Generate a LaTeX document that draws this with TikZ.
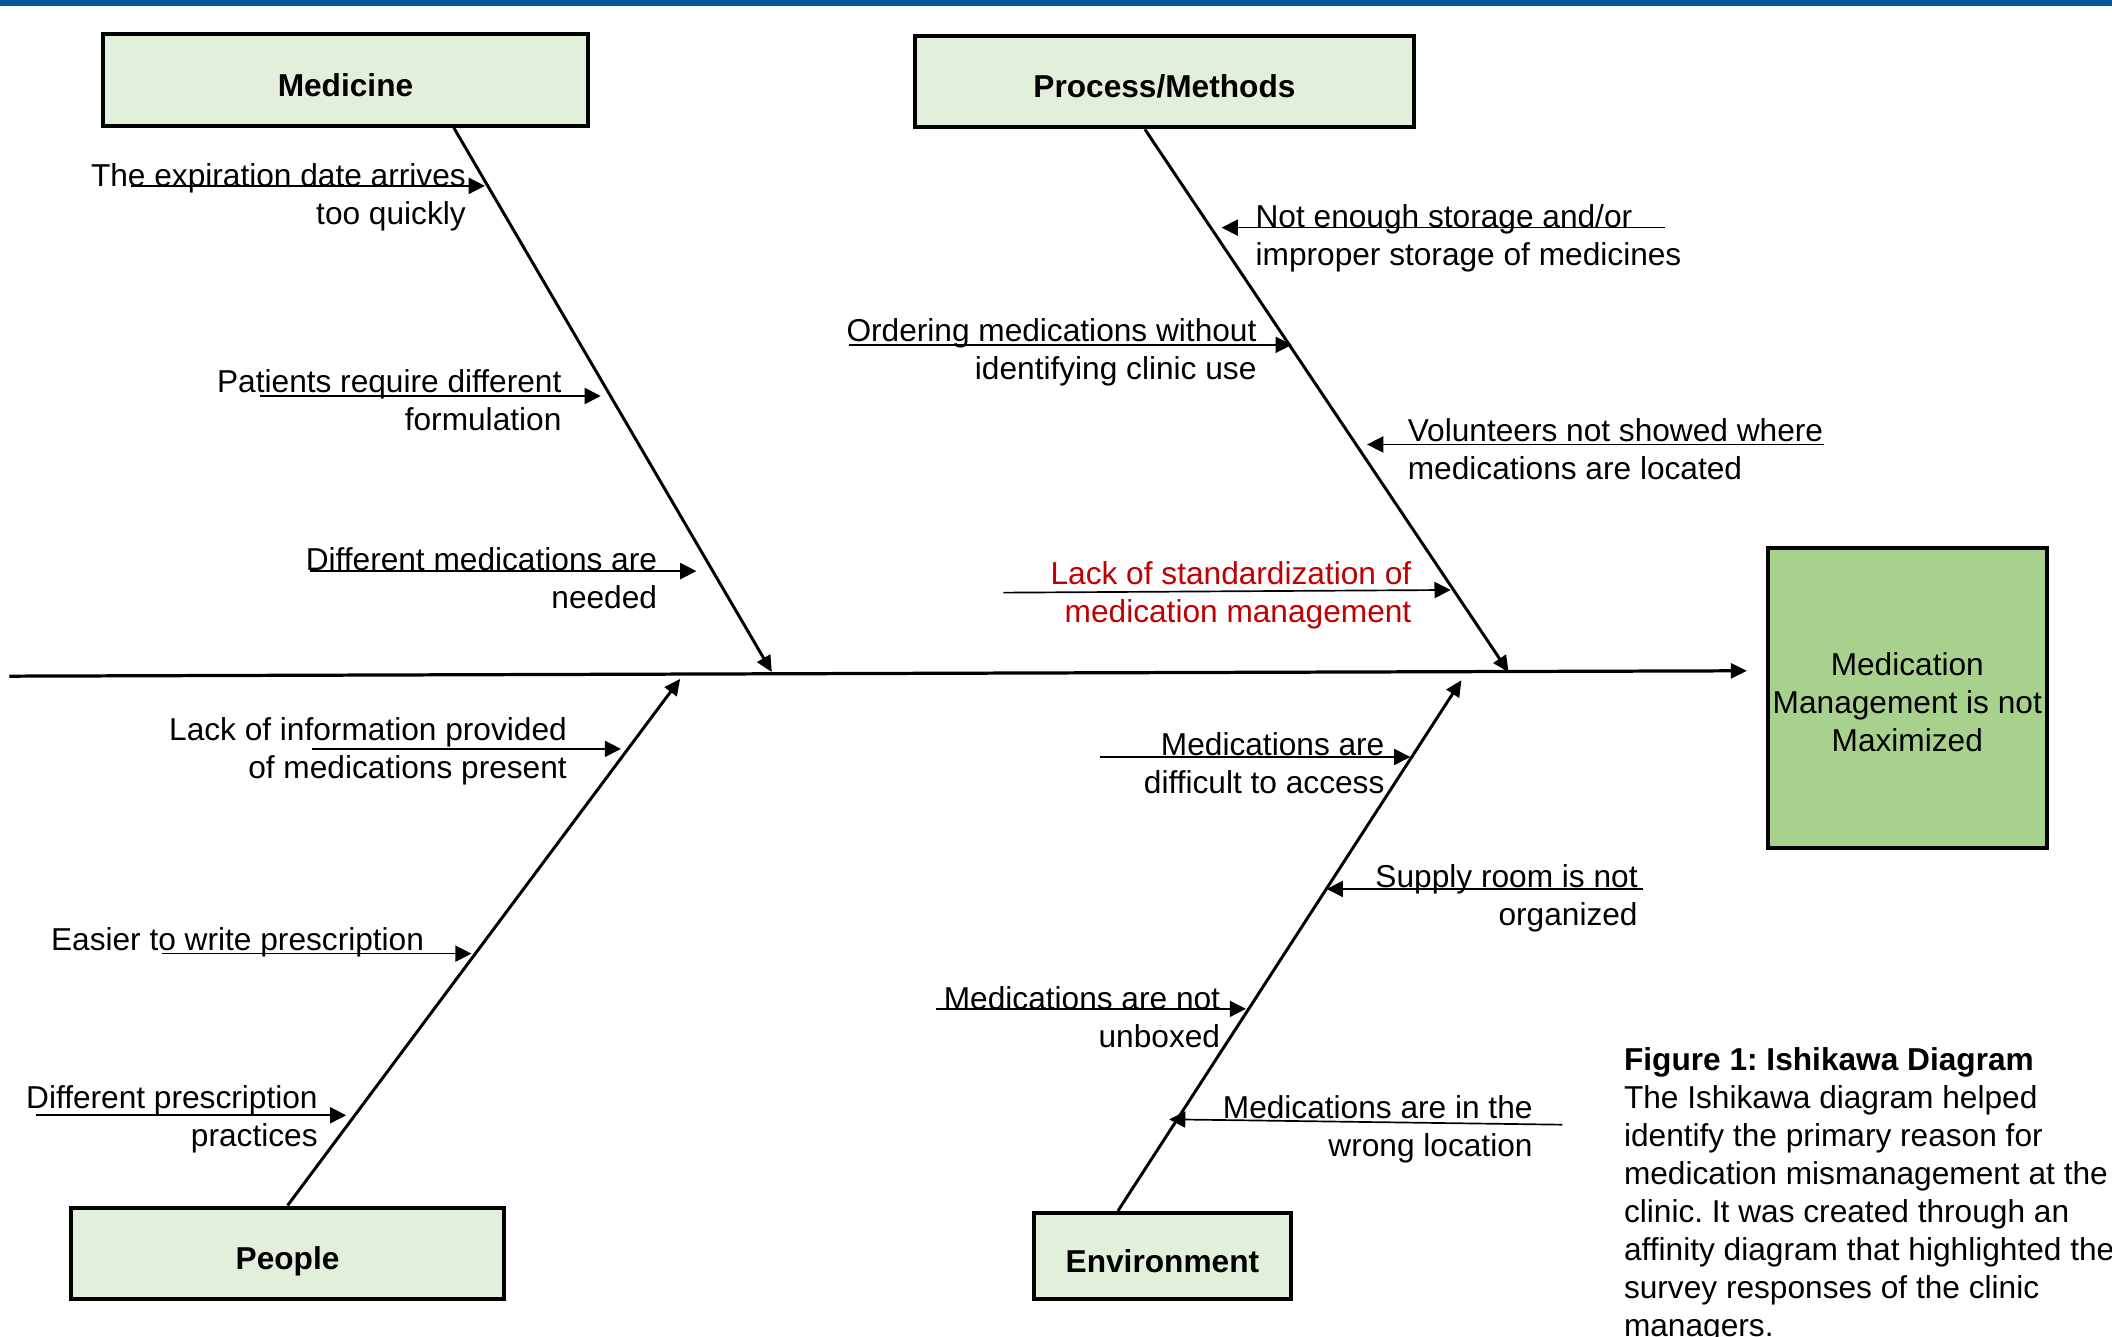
\documentclass[tikz,border=0pt]{standalone}
\usepackage{fontspec}
\setmainfont{Liberation Sans}
\usetikzlibrary{arrows.meta}
\definecolor{topbar}{HTML}{00589A}
\definecolor{catfill}{HTML}{E2EFDA}
\definecolor{efffill}{HTML}{A9D18E}
\definecolor{redtxt}{HTML}{C00000}
\frenchspacing
\begin{document}
\begin{tikzpicture}[x=1pt,y=-1pt,
  txt/.style={font=\fontsize{23.5}{28.2}\selectfont, inner sep=0pt},
  lblR/.style={txt, align=right, anchor=north east},
  lblL/.style={txt, align=left, anchor=north west},
  catbox/.style={draw, line width=3pt, fill=catfill, inner sep=0pt,
     text height=24pt, text depth=0pt,
     font=\fontsize{23.5}{28.2}\selectfont\bfseries},
  cause/.style={-{Triangle[length=12pt,width=12pt]}, line width=1.25pt},
  bone/.style={-{Triangle[length=12pt,width=11pt]}, line width=2.2pt},
  spine/.style={-{Triangle[length=12pt,width=11pt]}, line width=2.4pt}]
\useasboundingbox (0,0) rectangle (1568,992);
\fill[topbar] (0,0) rectangle (1568,4.3);

% category boxes
\node[catbox, minimum width=360pt, minimum height=68pt] (med) at (256.5,59.5) {Medicine};
\node[catbox, minimum width=370pt, minimum height=68pt] (proc) at (864.5,60.5) {Process/Methods};
\node[catbox, minimum width=322pt, minimum height=68pt] (peop) at (213.5,930.5) {People};
\node[catbox, minimum width=191pt, minimum height=64pt] (env) at (863,932.5) {Environment};

% effect box
\node[draw, line width=3pt, fill=efffill, inner sep=0pt, minimum width=207pt, minimum height=223pt,
  align=center, txt, text height=79.5pt, text depth=0pt] (eff) at (1416,518) {Medication\\Management is not\\Maximized};

% spine
\coordinate (sp0) at (7,502);
\coordinate (sp1) at (1297,498);
\draw[spine] (sp0) -- (sp1);

% junctions on spine
\coordinate (j1) at (573,499);
\coordinate (j2) at (1120,499);
\coordinate (j3) at (505,504);
\coordinate (j4) at (1085,505);

% bones
\draw[bone] ([xshift=80.5pt]med.south) -- (j1);
\draw[bone] ([xshift=-14.5pt]proc.south) -- (j2);
\draw[bone] (peop.north) -- (j3);
\draw[bone] ([xshift=-33pt]env.north) -- (j4);

% Medicine causes
\node[lblR] (m1) at (346,121.5) {The expiration date arrives\\too quickly};
\coordinate (m1a) at (97,138); \coordinate (m1b) at (360,138);
\draw[cause] (m1a) -- (m1b);
\node[lblR] (m2) at (417,274.5) {Patients require different\\formulation};
\coordinate (m2a) at (193,294); \coordinate (m2b) at (446,294);
\draw[cause] (m2a) -- (m2b);
\node[lblR] (m3) at (488,406.5) {Different medications are\\needed};
\coordinate (m3a) at (230,424); \coordinate (m3b) at (517,424);
\draw[cause] (m3a) -- (m3b);

% Process causes
\node[lblL] (p1) at (932,151.5) {Not enough storage and/or\\improper storage of medicines};
\coordinate (p1a) at (1236,169); \coordinate (p1b) at (907,169);
\draw[cause] (p1a) -- (p1b);
\node[lblR] (p2) at (933,236.5) {Ordering medications without\\identifying clinic use};
\coordinate (p2a) at (630,256); \coordinate (p2b) at (959,256);
\draw[cause] (p2a) -- (p2b);
\node[lblL] (p3) at (1045,310.5) {Volunteers not showed where\\medications are located};
\coordinate (p3a) at (1354,330); \coordinate (p3b) at (1015,330);
\draw[cause] (p3a) -- (p3b);
\node[lblR, text=redtxt] (p4) at (1048,416.5) {Lack of standardization of\\medication management};
\coordinate (p4a) at (745,440); \coordinate (p4b) at (1077,438);
\draw[cause] (p4a) -- (p4b);

% People causes
\node[lblR] (q1) at (421,532.5) {Lack of information provided\\of medications present};
\coordinate (q1a) at (232,556); \coordinate (q1b) at (461,556);
\draw[cause] (q1a) -- (q1b);
\node[lblR] (q2) at (315,688.5) {Easier to write prescription};
\coordinate (q2a) at (120,708); \coordinate (q2b) at (350,708);
\draw[cause] (q2a) -- (q2b);
\node[lblR] (q3) at (236,805.5) {Different prescription\\practices};
\coordinate (q3a) at (27,828); \coordinate (q3b) at (257,828);
\draw[cause] (q3a) -- (q3b);

% Environment causes
\node[lblR] (e1) at (1028,543.5) {Medications are\\difficult to access};
\coordinate (e1a) at (817,562); \coordinate (e1b) at (1047,562);
\draw[cause] (e1a) -- (e1b);
\node[lblR] (e2) at (1216,641.5) {Supply room is not\\organized};
\coordinate (e2a) at (1220,660); \coordinate (e2b) at (985,660);
\draw[cause] (e2a) -- (e2b);
\node[lblR] (e3) at (906,732.5) {Medications are not\\unboxed};
\coordinate (e3a) at (695,749); \coordinate (e3b) at (925,749);
\draw[cause] (e3a) -- (e3b);
\node[lblR] (e4) at (1138,813.5) {Medications are in the\\wrong location};
\coordinate (e4a) at (1160,835); \coordinate (e4b) at (868,831);
\draw[cause] (e4a) -- (e4b);

% caption
\node[lblL] (cap) at (1205.5,777.5) {\textbf{Figure 1: Ishikawa Diagram}\\The Ishikawa diagram helped\\identify the primary reason for\\medication mismanagement at the\\clinic. It was created through an\\affinity diagram that highlighted the\\survey responses of the clinic\\managers.};
\end{tikzpicture}
\end{document}
